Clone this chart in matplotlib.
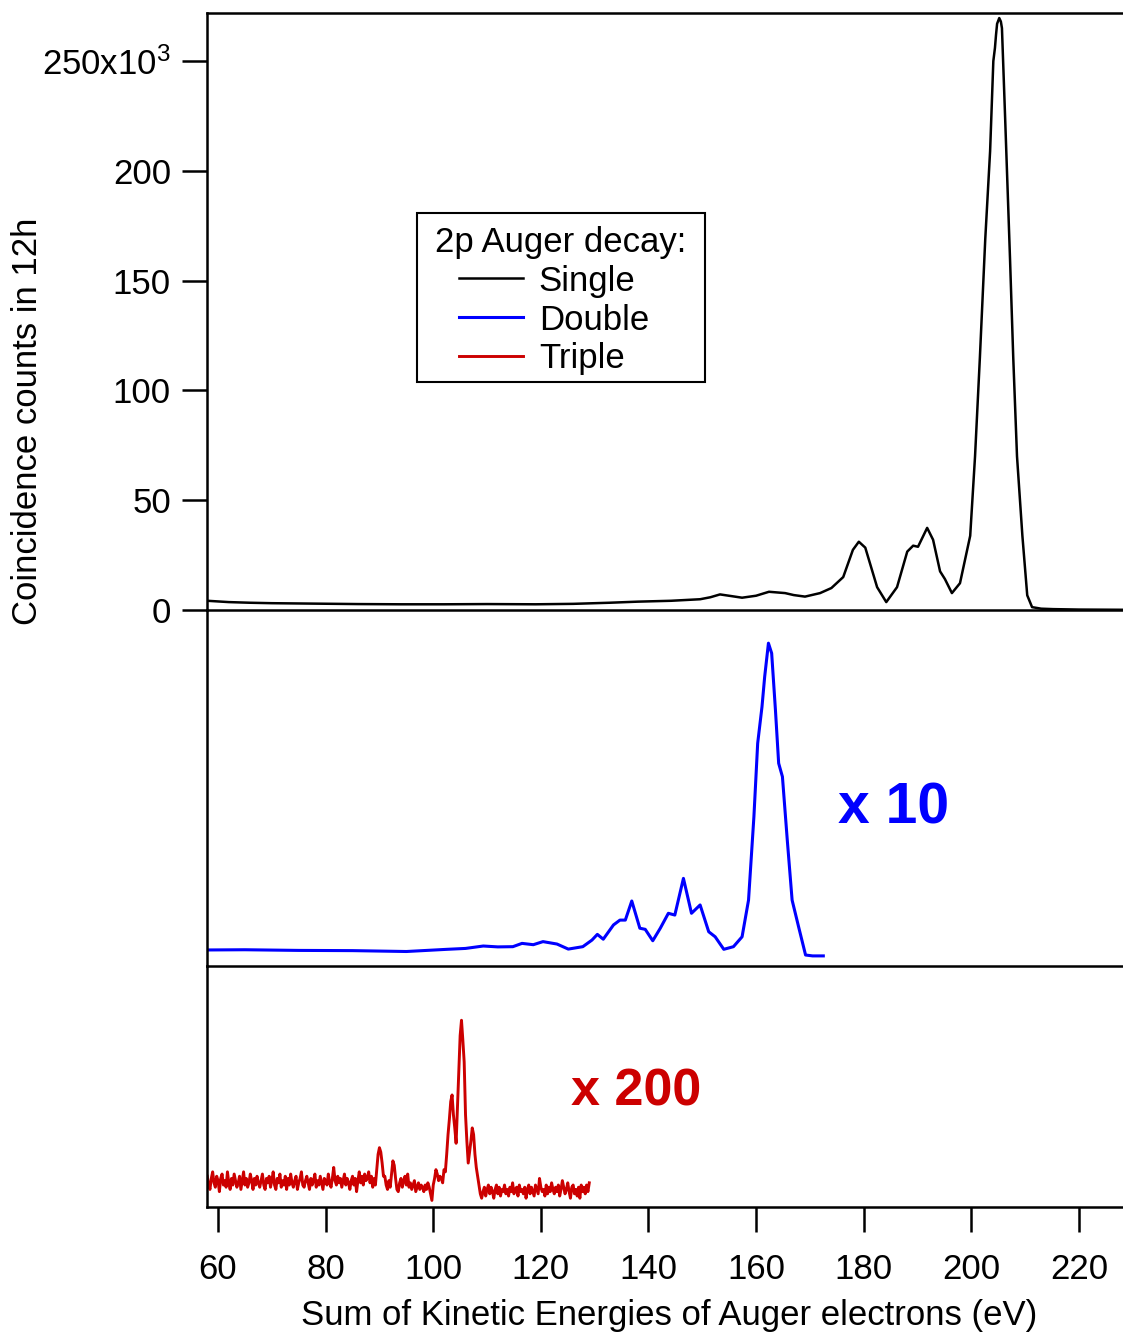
import numpy as np
import matplotlib
matplotlib.use('Agg')
import matplotlib.pyplot as plt
from matplotlib.patches import Rectangle

plt.rcParams['font.family'] = ['Liberation Sans', 'DejaVu Sans']
plt.rcParams['mathtext.default'] = 'regular'

# single Auger decay (counts, x10^3)
black_x = [58, 62, 66, 70, 78, 86, 94, 102, 110, 119, 126, 132.7, 138, 144.2, 149.6,
           151.5, 153.3, 155.5, 157.4, 160, 162.4, 165.4, 167, 169.1, 171.9,
           174, 176.2, 178, 179.1, 180.3, 182.5, 184.2, 186.2, 188.1, 189.2,
           190.1, 191.8, 192.9, 194.2, 195.1, 196.4, 197.9, 199.8, 200.7, 201.6,
           202.6, 203.5, 204.1, 204.4, 204.6, 204.8, 205.2, 205.5, 205.7, 206.3,
           207.2, 207.8, 208.5, 209.5, 210.4, 211.3, 213, 215.2, 220, 228.2]
black_y = [4.2, 3.6, 3.3, 3.1, 2.9, 2.7, 2.6, 2.6, 2.7, 2.6, 2.8, 3.3, 3.8, 4.2, 4.9,
           5.8, 7.1, 6.3, 5.6, 6.5, 8.3, 7.7, 6.8, 6.1, 7.7,
           10, 15, 27.4, 31.1, 28.4, 10.4, 3.6, 10.4, 26.6, 29.3,
           28.8, 37.4, 32, 17.6, 14.1, 7.7, 12.2, 33.8, 70, 115,
           169, 209, 250, 256, 262, 267, 269.6, 268, 265, 223.6,
           160, 115, 70, 33.8, 6.7, 1.3, 0.6, 0.4, 0.2, 0.1]

# double Auger decay (x 10)
blue_x = [58, 65, 75, 85, 95, 102.6, 106, 109.3, 112, 114.8, 116.5, 118.6, 120.4, 123,
          125.1, 127.8, 129.5, 130.5, 131.6, 133.5, 134.7, 135.7, 136.9, 138.4, 139.4,
          140.8, 142.2, 143.7, 144.9, 146.5, 148, 149.6, 151.2, 152.4, 154, 155.8,
          157.4, 158.6, 159.6, 160.3, 161.1, 161.6, 162.3, 162.9, 163.6, 164.2,
          164.9, 165.8, 166.7, 167.9, 169.2, 170.5, 172.5]
blue_y = [7.3, 7.4, 7.1, 7.0, 6.6, 7.6, 8.0, 9.1, 8.7, 8.8, 10.3, 9.7, 11.1, 10,
          7.7, 8.8, 11.8, 14.4, 12.2, 18.7, 20.9, 20.9, 29.6, 17.2, 16.7,
          11.5, 17.2, 24, 23.2, 39.9, 24, 27.8, 15.6, 13.3, 7.6, 8.8,
          13.3, 30, 68, 101.4, 118, 131.7, 147, 142.4, 116.6, 92.3,
          86.2, 57.4, 30, 17.9, 5, 4.6, 4.6]

# triple Auger decay (x 200), 0.25 eV bins starting at 58 eV
red_y = [14, 10, 8, 13, 16, 11, 9, 14, 12, 7, 13, 15, 10, 12, 9, 16, 11, 8, 13, 10,
         15, 12, 9, 11, 14, 8, 12, 16, 10, 13, 9, 11, 15, 12, 8, 13, 10, 14, 11, 9,
         12, 15, 10, 8, 13, 11, 14, 9, 12, 16, 10, 8, 13, 11, 15, 9, 12, 10, 14, 8,
         13, 10, 15, 11, 9, 12, 14, 8, 11, 13, 16, 10, 9, 12, 14, 11, 8, 13, 10, 12,
         15, 9, 12, 10, 14, 11, 8, 13, 12, 10, 15, 11, 9, 13, 18, 12, 10, 14, 11, 13,
         9, 12, 15, 10, 13, 11, 8, 12, 14, 10, 13, 7, 12, 16, 11, 14, 10, 15, 12, 13,
         16, 11, 14, 9, 13, 10, 17, 24, 27, 25, 20, 14, 14, 10, 8, 12, 9, 15, 21, 19,
         13, 8, 7, 11, 13, 9, 12, 14, 10, 15, 9, 11, 8, 10, 12, 7, 9, 11, 8, 10,
         9, 7, 10, 8, 11, 9, 6, 3, 10, 13, 17, 15, 12, 14, 13, 11, 17, 16, 24, 33,
         40, 48, 51, 42, 36, 29, 45, 62, 78, 85, 76, 66, 42, 30, 20, 25, 30, 36, 33, 24,
         18, 14, 10, 6, 4, 7, 9, 5, 8, 10, 6, 9, 7, 4, 8, 10, 6, 9, 5, 8,
         7, 10, 6, 8, 5, 9, 7, 11, 6, 8, 9, 5, 10, 7, 8, 6, 9, 4, 8, 10,
         6, 9, 7, 5, 10, 8, 6, 13, 9, 7, 8, 5, 10, 6, 9, 7, 11, 8, 6, 9,
         7, 10, 5, 8, 12, 9, 6, 8, 11, 7, 4, 9, 10, 6, 8, 5, 9, 4, 10, 7,
         9, 6, 10, 7, 11]
red_x = 58 + 0.25 * np.arange(len(red_y))

xticks = [60, 80, 100, 120, 140, 160, 180, 200, 220]
yticks = [0, 50, 100, 150, 200, 250]
ytick_labels = ['0', '50', '100', '150', '200', '250x10$^{3}$']

blue = '#0000ff'
red = '#cc0000'
lw_sp = 1.8
fs = 25

fig = plt.figure(figsize=(11.23, 13.34), dpi=100)
H = 1334.0
L = 207 / 1123.0
W = 1 - L
ax1 = fig.add_axes([L, 1 - 610 / H, W, (610 - 13) / H])
ax2 = fig.add_axes([L, 1 - 966 / H, W, (966 - 610) / H], sharex=ax1)
ax3 = fig.add_axes([L, 1 - 1207 / H, W, (1207 - 966) / H], sharex=ax1)
ax2.set_facecolor('none')
ax3.set_facecolor('none')

l1, = ax1.plot(black_x, black_y, color='black', lw=1.8, label='Single')
l2, = ax2.plot(blue_x, blue_y, color=blue, lw=2.2, label='Double')
l3, = ax3.plot(red_x, red_y, color=red, lw=2.1, label='Triple')

ax1.set_xlim(57.95, 228.2)
ax1.set_ylim(0, 271.9)
ax2.set_ylim(0, 162.1)
ax3.set_ylim(0, 109.7)

for ax in (ax1, ax2, ax3):
    ax.spines['right'].set_visible(False)
    for s in ax.spines.values():
        s.set_linewidth(lw_sp)
ax2.spines['top'].set_visible(False)
ax3.spines['top'].set_visible(False)

ax1.set_yticks(yticks)
ax1.set_yticklabels(ytick_labels)
ax1.tick_params(axis='y', direction='out', length=18, width=lw_sp, labelsize=fs, pad=8)
ax1.tick_params(axis='x', bottom=False, labelbottom=False)
ax2.tick_params(left=False, labelleft=False, bottom=False, labelbottom=False)
ax3.tick_params(axis='y', left=False, labelleft=False)
ax3.set_xticks(xticks)
ax3.tick_params(axis='x', direction='out', length=18, width=lw_sp, labelsize=fs, pad=15)

ax2.text(175.2, 65.1, 'x 10', color=blue, fontsize=41, fontweight='bold',
         ha='left', va='baseline')
ax3.text(125.6, 46, 'x 200', color=red, fontsize=37.5, fontweight='bold',
         ha='left', va='baseline')

fig.text(28 / 1123, 1 - 421 / H, 'Coincidence counts in 12h', rotation=90,
         fontsize=fs, ha='center', va='center')
fig.text(669 / 1123, 1 - 1315 / H, 'Sum of Kinetic Energies of Auger electrons (eV)',
         fontsize=fs, ha='center', va='center')

# legend box
fig.add_artist(Rectangle((417 / 1123, 1 - 382 / H), (705 - 417) / 1123, (382 - 213) / H,
                         transform=fig.transFigure, fill=False, ec='black', lw=1.5))
fig.text(435 / 1123, 1 - 252 / H, '2p Auger decay:', fontsize=fs, ha='left', va='baseline')
ax1.legend(handles=[l1, l2, l3], loc='center left', frameon=False,
           bbox_to_anchor=(459 / 1123, 1 - 320 / H), bbox_transform=fig.transFigure,
           fontsize=fs, handlelength=1.85, handletextpad=0.45, labelspacing=0.17,
           borderpad=0, borderaxespad=0)

fig.savefig('out.png', dpi=100)
